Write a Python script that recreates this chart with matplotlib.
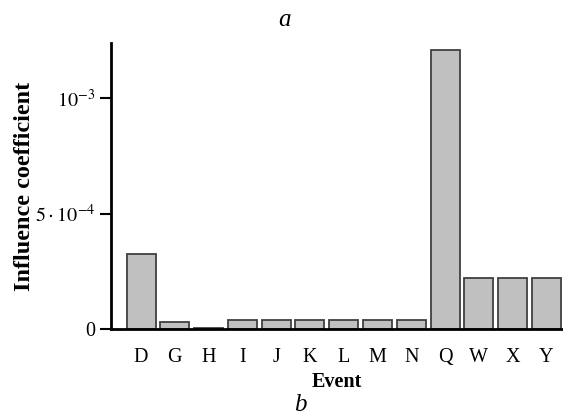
import matplotlib
matplotlib.use('Agg')
import matplotlib.pyplot as plt
import numpy as np

plt.rcParams['font.family'] = ['Liberation Serif', 'DejaVu Serif']
plt.rcParams['mathtext.fontset'] = 'stix'

# influence coefficient per event
events = ['D', 'G', 'H', 'I', 'J', 'K', 'L', 'M', 'N', 'Q', 'W', 'X', 'Y']
coef = [3.23e-4, 0.32e-4, 0.05e-4, 0.37e-4, 0.37e-4, 0.37e-4, 0.37e-4,
        0.37e-4, 0.37e-4, 1.21e-3, 2.23e-4, 2.23e-4, 2.23e-4]
ytick_vals = [0, 5e-4, 1e-3]
ytick_txt = ['0', r'$5\cdot10^{\mathrm{-4}}$', r'$10^{\mathrm{-3}}$']

fig = plt.figure(figsize=(5.63, 4.18), dpi=100)
ax = fig.add_axes([0.1965, 0.213, 0.8035, 0.684])

x = np.arange(len(events))
ax.bar(x, coef, width=0.86, color='#c0c0c0', edgecolor='#404040', linewidth=1.3)

ax.set_xlim(-0.9, 12.49)
ax.set_ylim(0, 1.24e-3)
ax.set_xticks(x)
ax.set_xticklabels(events, fontsize=14.5)
ax.set_yticks(ytick_vals)
ax.set_yticklabels(ytick_txt, fontsize=14.5)
ax.tick_params(axis='x', length=0, pad=14)
ax.tick_params(axis='y', length=8, width=1.5, pad=3)

for s in ['top', 'right']:
    ax.spines[s].set_visible(False)
for s in ['left', 'bottom']:
    ax.spines[s].set_linewidth(2)

ax.set_xlabel('Event', fontsize=14.5, fontweight='bold', labelpad=3)
ax.set_ylabel('Influence coefficient', fontsize=17.5, fontweight='bold', labelpad=0)

fig.text(0.506, 0.952, 'a', fontsize=18, style='italic', ha='center', va='center')
fig.text(0.533, 0.004, 'b', fontsize=18, style='italic', ha='center', va='bottom')

fig.savefig('out.png', dpi=100)
